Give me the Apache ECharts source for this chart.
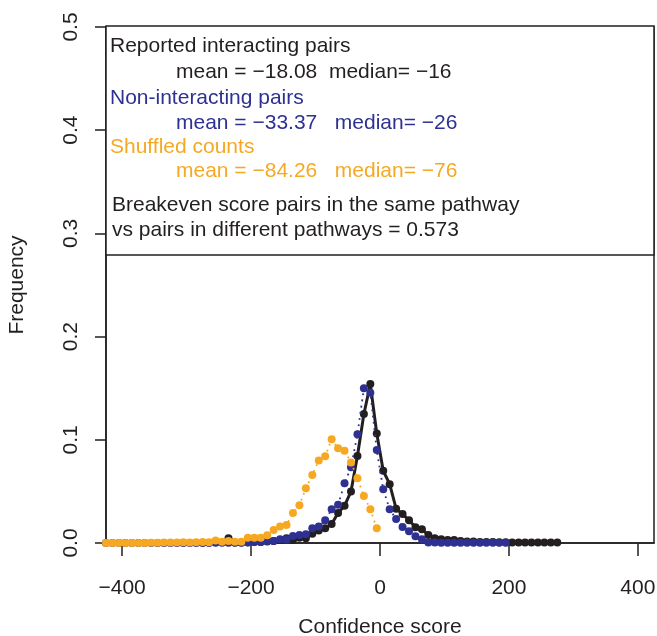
<!DOCTYPE html>
<html>
<head>
<meta charset="utf-8">
<script src="https://cdn.jsdelivr.net/npm/echarts@6/dist/echarts.min.js"></script>
<style>
html,body{margin:0;padding:0;background:#fff;}
#chart{width:657px;height:636px;}
</style>
</head>
<body>
<div id="chart"></div>
<script>
// Bin centers of the confidence-score histogram
const binCenters = [-425,-415,-405,-395,-385,-375,-365,-355,-345,-335,-325,-315,-305,-295,-285,-275,-265,-255,-245,-235,
  -225,-215,-205,-195,-185,-175,-165,-155,-145,-135,-125,-115,-105,-95,-85,-75,-65,-55,-45,-35,-25,-15,-5,
  5,15,25,35,45,55,65,75,85,95,105,115,125,135,145,155,165,175,185,195,205,215,225,235,245,255,265,275];

// Reported interacting pairs (black)
const reportedPairs = [null,null,null,null,null,null,null,null,null,null,null,null,null,null,null,null,null,null,null,
  0.0045,0.0005,0.0005,0.0008,0.001,0.001,0.0015,0.002,0.003,0.0045,0.003,0.005,0.0045,0.009,0.012,0.0142,0.0185,0.029,0.036,0.050,0.0843,0.125,0.154,0.106,
  0.070,0.057,0.0333,0.028,0.022,0.0152,0.0133,0.0078,0.0045,0.0036,0.003,0.003,0.002,0.0015,0.0015,0.001,0.001,0.001,0.0008,0.0008,0.0005,0.0005,0.0005,0.0005,0.0005,0.0005,0.0005,0.0005];

// Non-interacting pairs (blue)
const nonInteractingPairs = [0,0,0,0,0,0,0,0,0,0,0,0,0,0,0,0,0,0.0002,0.0002,0.0002,0.0002,
  0.0003,0.0005,0.001,0.001,0.002,0.002,0.0036,0.0036,0.0068,0.0078,0.0084,0.0142,0.016,0.022,0.0326,0.037,0.0578,0.0733,0.1053,0.150,0.1457,0.090,
  0.052,0.0326,0.0233,0.0155,0.0115,0.0065,0.0036,0.0006,0.0004,0.0003,0.0002,0.0002,0.0002,0.0002,0.0002,0.0002,0.0002,0.0002,0.0002,0.0002,
  null,null,null,null,null,null,null,null];

// Shuffled counts (orange)
const shuffledCounts = [0,0,0,0,0,0,0,0.0003,0.0003,0.0005,0.0005,0.0005,0.0008,0.0005,0.0008,0.001,0.0008,
  0.0025,0.0012,0.002,0.0012,0.0012,0.005,0.005,0.0052,0.0075,0.0125,0.016,0.0175,0.029,0.0365,0.053,0.066,0.080,0.084,0.1005,0.0917,0.0895,0.078,0.0627,0.0455,0.0326,0.0142,
  null,null,null,null,null,null,null,null,null,null,null,null,null,null,null,null,null,null,null,null,null,null,null,null,null,null,null,null];

const xTicks = [-400,-200,0,200,400];
const yTicks = [0,0.1,0.2,0.3,0.4,0.5];

const legendLines = [
  {text:'Reported interacting pairs', color:'black', x:110, y:46},
  {text:'mean = \u221218.08  median= \u221216', color:'black', x:176, y:72},
  {text:'Non-interacting pairs', color:'blue', x:110, y:98},
  {text:'mean = \u221233.37   median= \u221226', color:'blue', x:176, y:123},
  {text:'Shuffled counts', color:'orange', x:110, y:147},
  {text:'mean = \u221284.26   median= \u221276', color:'orange', x:176, y:171},
  {text:'Breakeven score pairs in the same pathway', color:'black', x:112, y:205},
  {text:'vs pairs in different pathways = 0.573', color:'black', x:112, y:230}
];

const COLORS = {black:'#231f20', blue:'#2e3192', orange:'#f7a823'};
const FONT = "'Liberation Sans', Arial, Helvetica, sans-serif";

function pairs(vals){ return binCenters.map((x,i)=>[x, vals[i]]); }
function fmt(v){ return v < 0 ? '\u2212' + Math.abs(v) : String(v); }

const chart = echarts.init(document.getElementById('chart'), null, {renderer:'canvas'});
chart.setOption({
  animation:false,
  backgroundColor:'#fff',
  grid:{left:106, right:3, top:27, bottom:93, outerBoundsMode:'none', containLabel:false,
        show:true, borderColor:COLORS.black, borderWidth:1.5, backgroundColor:'transparent'},
  xAxis:{
    type:'value', min:-425, max:425,
    name:'Confidence score', nameLocation:'middle', nameGap:74,
    nameTextStyle:{fontFamily:FONT, fontSize:21, color:COLORS.black},
    axisLine:{show:true, onZero:false, lineStyle:{color:COLORS.black, width:1.5}},
    axisTick:{show:true, length:13, customValues:xTicks, lineStyle:{color:COLORS.black, width:1.5}},
    axisLabel:{customValues:xTicks, formatter:fmt, margin:35, fontFamily:FONT, fontSize:21, color:COLORS.black},
    splitLine:{show:false}
  },
  yAxis:{
    type:'value', min:0, max:0.5,
    name:'Frequency', nameLocation:'middle', nameGap:78, nameRotate:90,
    nameTextStyle:{fontFamily:FONT, fontSize:21, color:COLORS.black},
    axisLine:{show:true, onZero:false, lineStyle:{color:COLORS.black, width:1.5}},
    axisTick:{show:true, length:11, customValues:yTicks, lineStyle:{color:COLORS.black, width:1.5}},
    axisLabel:{customValues:yTicks, rotate:90, margin:24, formatter:v=>v.toFixed(1), fontFamily:FONT, fontSize:21, color:COLORS.black},
    splitLine:{show:false}
  },
  series:[
    {type:'line', name:'Reported interacting pairs', data:pairs(reportedPairs), symbol:'circle', symbolSize:8,
     itemStyle:{color:COLORS.black}, lineStyle:{color:COLORS.black, width:3}, z:2},
    {type:'line', name:'Non-interacting pairs', data:pairs(nonInteractingPairs), symbol:'circle', symbolSize:8,
     itemStyle:{color:COLORS.blue}, lineStyle:{color:COLORS.blue, width:1.8, type:[1.8,4.5]}, z:3},
    {type:'line', name:'Shuffled counts', data:pairs(shuffledCounts), symbol:'circle', symbolSize:8,
     itemStyle:{color:COLORS.orange}, lineStyle:{color:COLORS.orange, width:1.8, type:[1.8,4.5]}, z:4}
  ],
  graphic:[
    {type:'rect', shape:{x:106, y:26, width:548, height:229}, style:{fill:'#fff', stroke:COLORS.black, lineWidth:1.5}, z:100}
  ].concat(legendLines.map(l=>({
    type:'text', x:l.x, y:l.y, z:101,
    style:{text:l.text, fill:COLORS[l.color], font:'21px ' + FONT, textVerticalAlign:'middle', textAlign:'left'}
  })))
});
</script>
</body>
</html>
